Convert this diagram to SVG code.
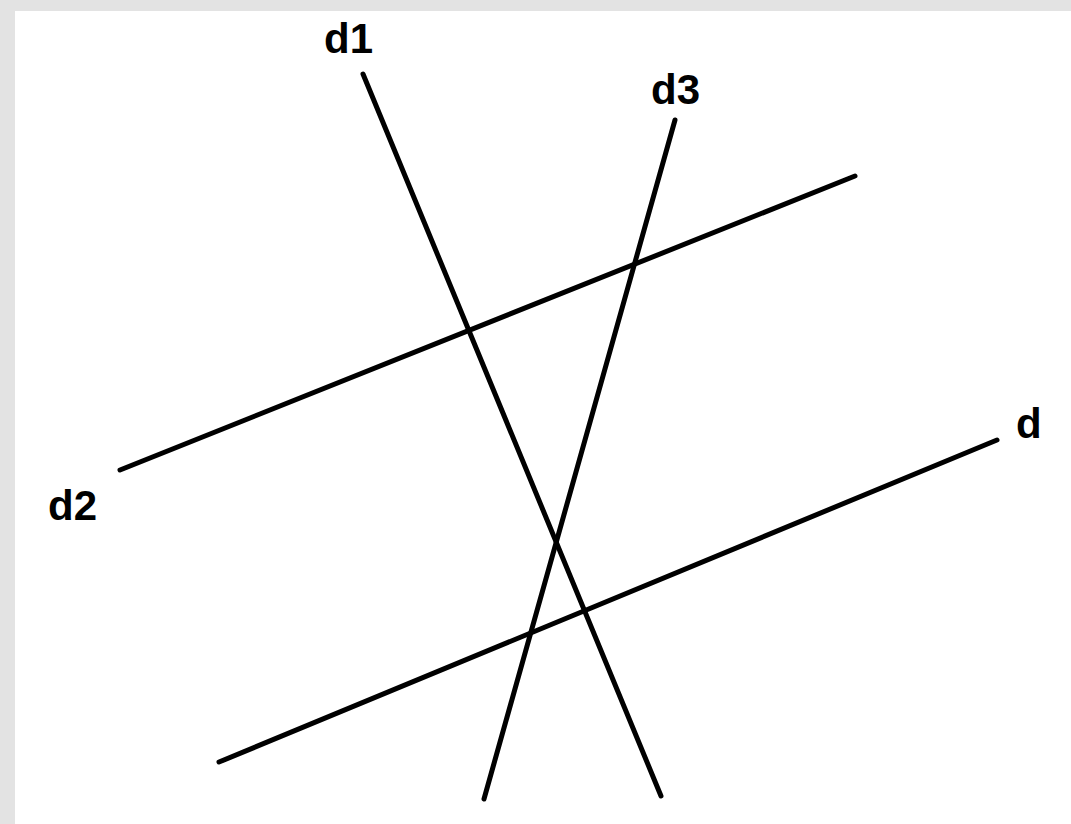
<svg xmlns="http://www.w3.org/2000/svg" width="1071" height="824" viewBox="0 0 1071 824">
<style>
.ln{stroke:#000;stroke-width:5;stroke-linecap:round;fill:none}
.lb{font-family:"Liberation Sans",Arial,sans-serif;font-size:42px;font-weight:bold;fill:#000}
</style>
<rect x="0" y="0" width="1071" height="824" fill="#e3e3e3"/>
<rect x="15" y="11" width="1056" height="813" fill="#fff"/>
<g id="connectors">
<line id="d1" class="ln" x1="363" y1="74" x2="661" y2="796"/>
<line id="d3" class="ln" x1="675" y1="120" x2="484" y2="799"/>
<line id="d2" class="ln" x1="120" y1="470" x2="855" y2="176"/>
<line id="d" class="ln" x1="219" y1="762" x2="997" y2="440"/>
</g>
<g id="labels">
<text class="lb" x="324" y="53">d1</text>
<text class="lb" x="651" y="104">d3</text>
<text class="lb" x="48" y="520">d2</text>
<text class="lb" x="1016" y="438">d</text>
</g>
</svg>
